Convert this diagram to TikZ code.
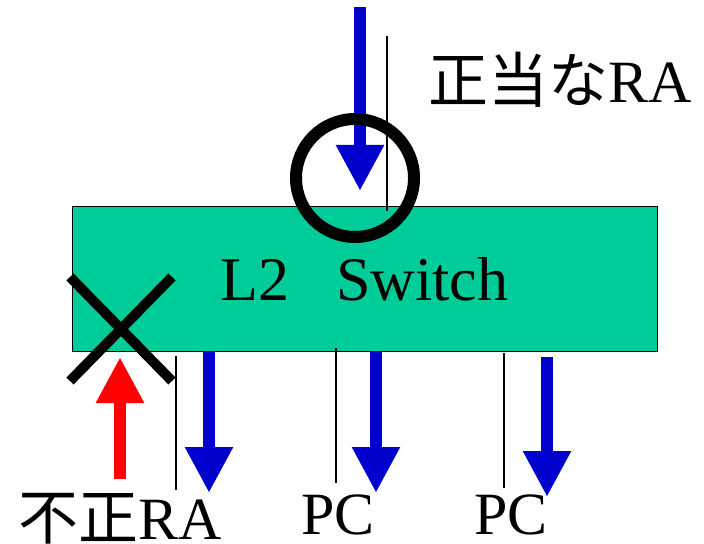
\documentclass[tikz,border=0pt]{standalone}
\usepackage{fontspec}
\setmainfont{Liberation Serif}
\newfontfamily\jpfont{Noto Sans CJK JP}
\usetikzlibrary{arrows.meta, shapes.misc}
\definecolor{swgreen}{RGB}{0,204,153}
\definecolor{rablue}{RGB}{0,0,204}
\definecolor{rared}{RGB}{255,0,0}

\begin{document}
\begin{tikzpicture}[
    x=0.5pt, y=-0.5pt,
    every node/.style={font=\fontsize{30}{36}\selectfont, inner sep=0pt},
    box/.style={draw, line width=0.5pt, fill=swgreen, minimum width=292.5pt, minimum height=72pt},
    arrow/.style={-{Triangle[length=23pt, width=22.5pt]}, line width=6pt},
    wire/.style={line width=0.75pt},
    ring/.style={circle, draw, line width=6pt, minimum size=59pt},
    ngmark/.style={cross out, draw, line width=5pt, minimum width=46pt, minimum height=47pt}
]
\useasboundingbox (0,0) rectangle (704,544);

% switch
\node[box] (sw) at (364.5,279) {\fontsize{31}{36}\selectfont L2\hspace{0.75em}Switch};

% end points
\coordinate (in0) at (360,7);
\coordinate (in1) at (360,191);
\coordinate (bad0) at (120,479);
\coordinate (bad1) at (120,357);
\coordinate (pa0) at (209,351);
\coordinate (pa1) at (209,493);
\coordinate (pb0) at (376,351);
\coordinate (pb1) at (376,493);
\coordinate (pc0) at (547,357);
\coordinate (pc1) at (547,497);
\coordinate (wt0) at (387,36);
\coordinate (wt1) at (387,211);
\coordinate (wa0) at (176,356);
\coordinate (wa1) at (176,490);
\coordinate (wb0) at (336,348);
\coordinate (wb1) at (336,483);
\coordinate (wc0) at (504,353);
\coordinate (wc1) at (504,488);

% labels
\node[anchor=base west] (goodra) at (428,103) {{\jpfont 正当な}RA};
\node[anchor=base west] (badra) at (18,539) {{\jpfont 不正}RA};
\node[anchor=base west] (pc1lbl) at (301,534) {PC};
\node[anchor=base west] (pc2lbl) at (474,534) {PC};

% thin lines
\draw[wire] (wt0) -- (wt1);
\draw[wire] (wa0) -- (wa1);
\draw[wire] (wb0) -- (wb1);
\draw[wire] (wc0) -- (wc1);

% RA flows
\draw[arrow, rablue] (in0) -- (in1);
\draw[arrow, rared] (bad0) -- (bad1);
\draw[arrow, rablue] (pa0) -- (pa1);
\draw[arrow, rablue] (pb0) -- (pb1);
\draw[arrow, rablue] (pc0) -- (pc1);

% marks
\node[ring] (ok) at (355,178) {};
\node[ngmark] (ng) at (121,329) {};
\end{tikzpicture}
\end{document}
